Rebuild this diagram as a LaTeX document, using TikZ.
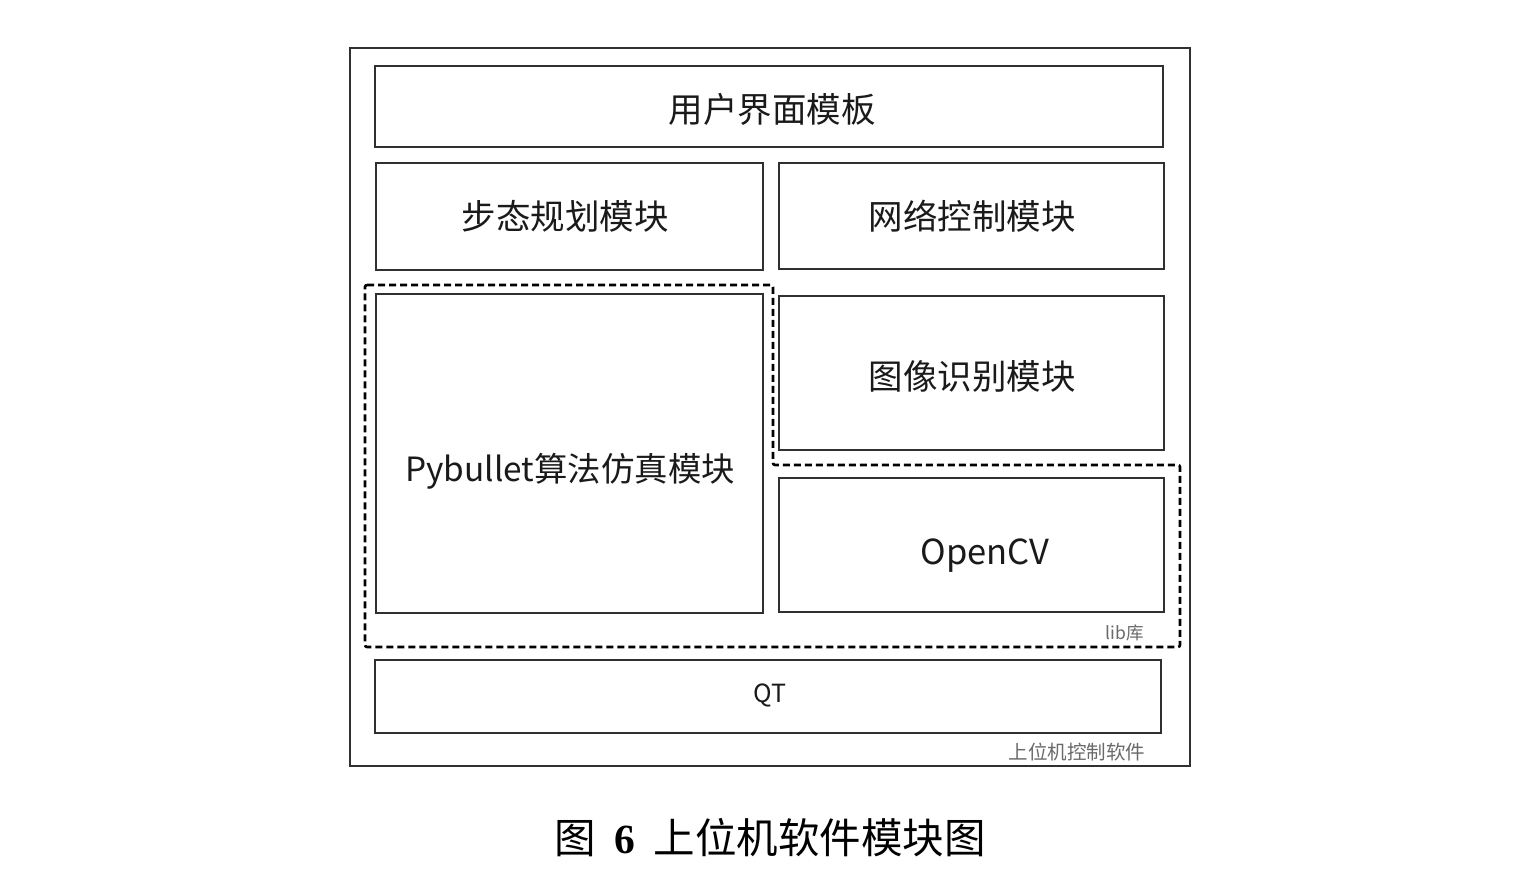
\documentclass[tikz,border=0pt]{standalone}
\usepackage{fontspec}
\setmainfont{Noto Sans CJK SC}
\newfontfamily\capserif{Liberation Serif}
\definecolor{linec}{HTML}{303030}
\definecolor{textc}{HTML}{1A1A1A}
\definecolor{grayc}{HTML}{6A6A6A}
\begin{document}
\begin{tikzpicture}[x=1pt,y=-1pt,
  box/.style={draw=linec, line width=1.6pt, inner sep=0pt},
  boxtext/.style={text=textc, inner sep=0pt, font=\fontsize{34.5}{38}\selectfont},
  outerbox/.style={draw=linec, line width=1.4pt},
  libline/.style={draw=black, line width=2.6pt, dash pattern=on 7pt off 4pt, rounded corners=2pt},
  smalllabel/.style={text=grayc, inner sep=0pt}]
\useasboundingbox[fill=white] (0,0) rectangle (1536,878);
% outer frame
\node[outerbox, minimum width=840pt, minimum height=718pt, inner sep=0pt] (frame) at (770,407) {};
% boxes
\node[box, minimum width=788pt, minimum height=81pt] (ui) at (769,106.5) {};
\node[box, minimum width=387pt, minimum height=107pt] (gait) at (569.5,216.5) {};
\node[box, minimum width=385pt, minimum height=106pt] (net) at (971.5,216) {};
\node[box, minimum width=387pt, minimum height=319pt] (pyb) at (569.5,453.5) {};
\node[box, minimum width=385pt, minimum height=154pt] (img) at (971.5,373) {};
\node[box, minimum width=385pt, minimum height=134pt] (cv) at (971.5,545) {};
\node[box, minimum width=786pt, minimum height=73pt] (qt) at (768,696.5) {};
% texts
\node[boxtext] (uit) at (772,109) {用户界面模板};
\node[boxtext] (gaitt) at (565,216) {步态规划模块};
\node[boxtext] (nett) at (972,216) {网络控制模块};
\node[boxtext, font=\fontsize{33.4}{37}\selectfont] (pybt) at (570,471) {Pybullet算法仿真模块};
\node[boxtext] (imgt) at (972,376) {图像识别模块};
\node[boxtext] (cvt) at (985,556) {OpenCV};
\node[text=textc, inner sep=0pt, font=\fontsize{25}{28}\selectfont] (qtt) at (770,695) {QT};
% lib dashed region
\coordinate (l1) at (365,285);
\coordinate (l2) at (773,285);
\coordinate (l3) at (773,465);
\coordinate (l4) at (1180,465);
\coordinate (l5) at (1180,647);
\coordinate (l6) at (365,647);
\draw[libline] (l1) -- (l2) -- (l3) -- (l4) -- (l5) -- (l6) -- cycle;
\node[smalllabel, font=\fontsize{17.5}{20}\selectfont] (lib) at (1125,633) {lib库};
\node[smalllabel, font=\fontsize{19.5}{22}\selectfont] (sw) at (1077,752) {上位机控制软件};
% caption
\node[text=black, inner sep=0pt, font=\fontsize{41.5}{45}\selectfont] (cap) at (770,838) {图\hspace{0.45em}{\capserif\bfseries 6}\hspace{0.45em}上位机软件模块图};
\end{tikzpicture}
\end{document}
